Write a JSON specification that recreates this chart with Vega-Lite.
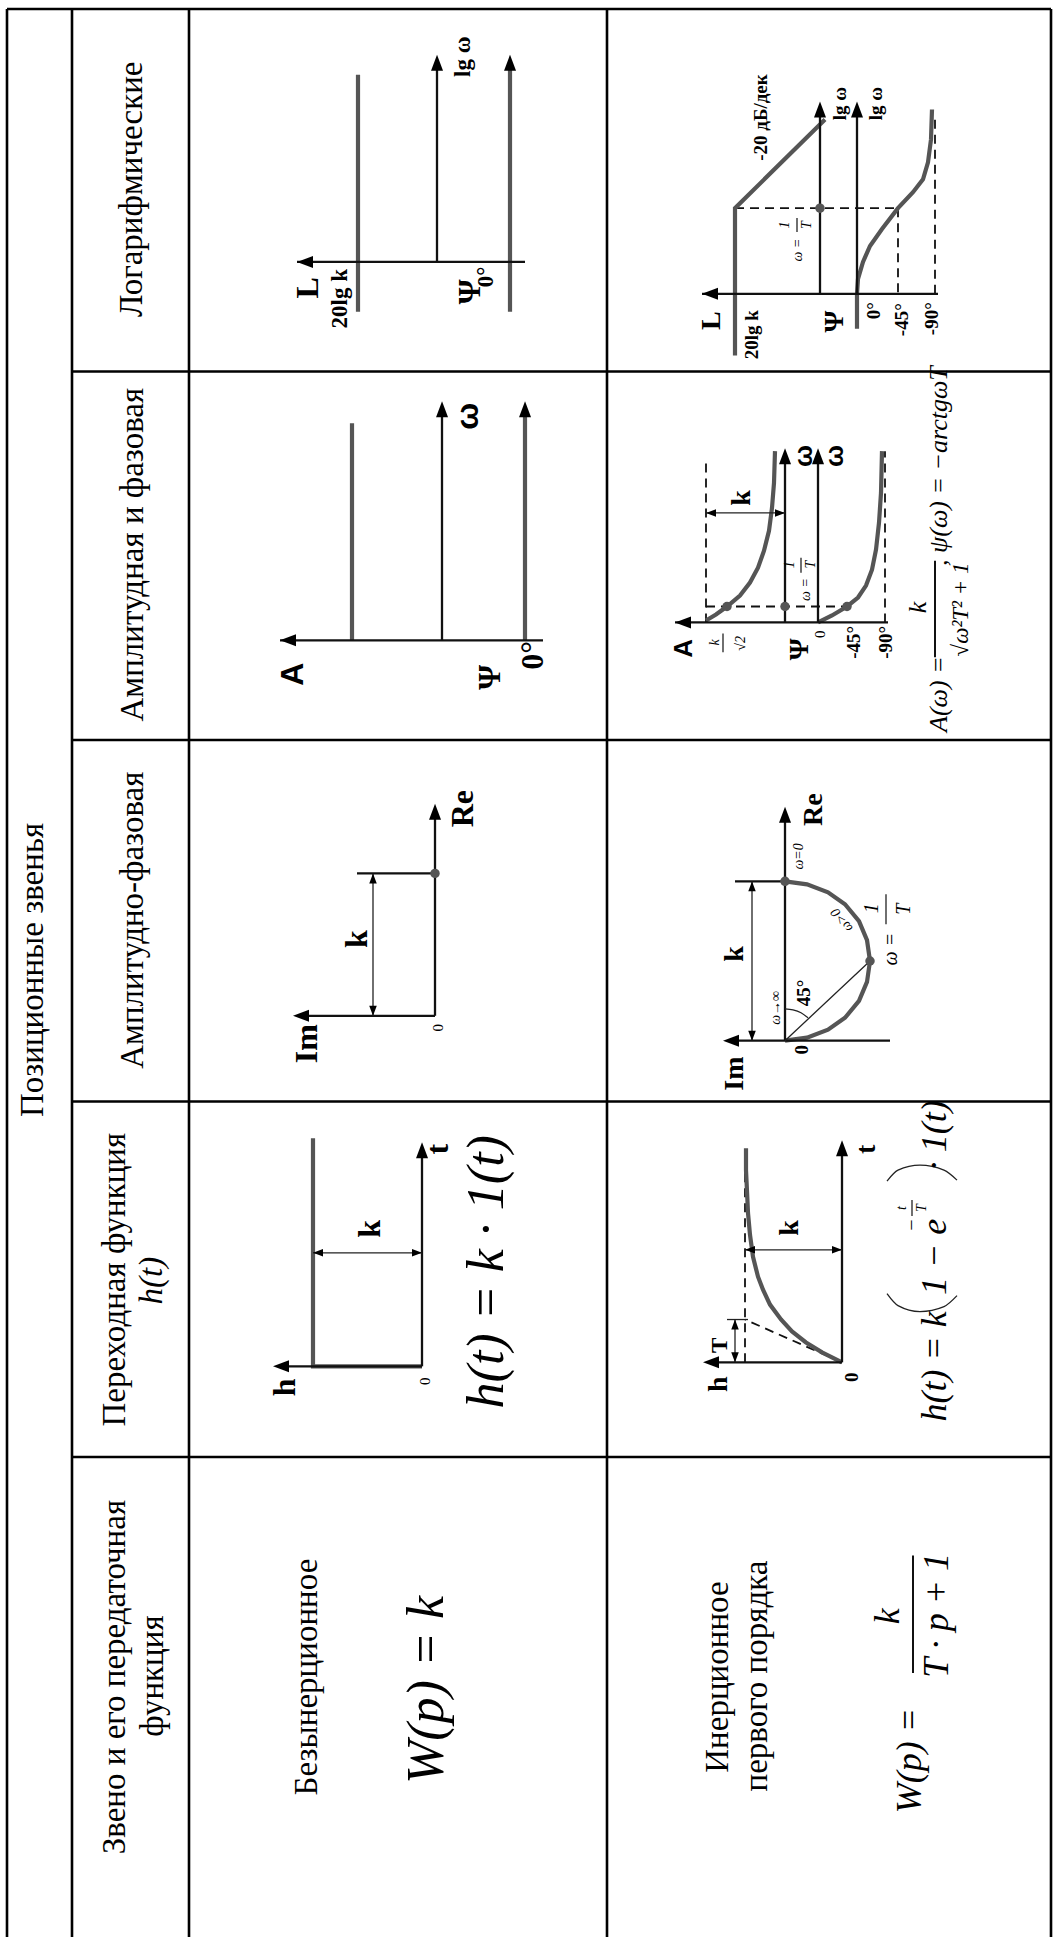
{
"$schema":"https://vega.github.io/schema/vega-lite/v6.json",
"width":1058,"height":1939,
"autosize":{"type":"fit","contains":"padding"},
"padding":0,
"background":"white",
"config":{"view":{"stroke":null},"text":{"font":"Times New Roman, Liberation Serif, serif"}},
"datasets":{
"grid":[
{"x":7,"y":9,"x2":7,"y2":1945},
{"x":72,"y":9,"x2":72,"y2":1945},
{"x":189,"y":9,"x2":189,"y2":1945},
{"x":607,"y":9,"x2":607,"y2":1945},
{"x":1051,"y":9,"x2":1051,"y2":1945},
{"x":7,"y":9,"x2":1051,"y2":9},
{"x":72,"y":373,"x2":1051,"y2":373},
{"x":72,"y":743,"x2":1051,"y2":743},
{"x":72,"y":1106,"x2":1051,"y2":1106},
{"x":72,"y":1463,"x2":1051,"y2":1463}
],
"paths":[
{"g":"a1","k":"ax","o":0,"x":297,"y":263},{"g":"a1","k":"ax","o":1,"x":525,"y":263},
{"g":"a2","k":"ax","o":0,"x":437,"y":263},{"g":"a2","k":"ax","o":1,"x":437,"y":62},
{"g":"c1","k":"cv","o":0,"x":358,"y":313},{"g":"c1","k":"cv","o":1,"x":358,"y":75},
{"g":"c2","k":"cv","o":0,"x":510,"y":313},{"g":"c2","k":"cv","o":1,"x":510,"y":64},
{"g":"a3","k":"ax","o":0,"x":280,"y":643},{"g":"a3","k":"ax","o":1,"x":543,"y":643},
{"g":"c3","k":"cv","o":0,"x":352,"y":643},{"g":"c3","k":"cv","o":1,"x":352,"y":425},
{"g":"a4","k":"ax","o":0,"x":442,"y":643},{"g":"a4","k":"ax","o":1,"x":442,"y":410},
{"g":"c4","k":"cv","o":0,"x":525,"y":643},{"g":"c4","k":"cv","o":1,"x":525,"y":412},
{"g":"a5","k":"ax","o":0,"x":435,"y":1020},{"g":"a5","k":"ax","o":1,"x":435,"y":814},
{"g":"a6","k":"ax","o":0,"x":435,"y":1020},{"g":"a6","k":"ax","o":1,"x":300,"y":1020},
{"g":"t1","k":"ax","o":0,"x":435,"y":877},{"g":"t1","k":"ax","o":1,"x":357,"y":877},
{"g":"d1","k":"th","o":0,"x":373,"y":877},{"g":"d1","k":"th","o":1,"x":373,"y":1020},
{"g":"a7","k":"ax","o":0,"x":422,"y":1372},{"g":"a7","k":"ax","o":1,"x":422,"y":1154},
{"g":"a8","k":"ax","o":0,"x":422,"y":1372},{"g":"a8","k":"ax","o":1,"x":280,"y":1372},
{"g":"c5","k":"cv","o":0,"x":422,"y":1372},{"g":"c5","k":"cv","o":1,"x":313,"y":1372},{"g":"c5","k":"cv","o":2,"x":313,"y":1143},
{"g":"d2","k":"th","o":0,"x":313,"y":1258},{"g":"d2","k":"th","o":1,"x":422,"y":1258},
{"g":"a9","k":"ax","o":0,"x":702,"y":295},{"g":"a9","k":"ax","o":1,"x":938,"y":295},
{"g":"a10","k":"ax","o":0,"x":820,"y":295},{"g":"a10","k":"ax","o":1,"x":820,"y":108},
{"g":"a11","k":"ax","o":0,"x":857,"y":295},{"g":"a11","k":"ax","o":1,"x":857,"y":108},
{"g":"s1","k":"ds","o":0,"x":735,"y":209},{"g":"s1","k":"ds","o":1,"x":898,"y":209},
{"g":"s2","k":"ds","o":0,"x":898,"y":209},{"g":"s2","k":"ds","o":1,"x":898,"y":295},
{"g":"s3","k":"ds","o":0,"x":935,"y":295},{"g":"s3","k":"ds","o":1,"x":935,"y":118},
{"g":"c6","k":"cv","o":0,"x":735,"y":357},{"g":"c6","k":"cv","o":1,"x":735,"y":209},{"g":"c6","k":"cv","o":2,"x":825,"y":120},
{"g":"c7","k":"cv","o":0,"x":857,"y":330},{"g":"c7","k":"cv","o":1,"x":857,"y":295},{"g":"c7","k":"cv","o":2,"x":858,"y":280},{"g":"c7","k":"cv","o":3,"x":863,"y":263},{"g":"c7","k":"cv","o":4,"x":870,"y":247},{"g":"c7","k":"cv","o":5,"x":882,"y":230},{"g":"c7","k":"cv","o":6,"x":898,"y":209},{"g":"c7","k":"cv","o":7,"x":913,"y":193},{"g":"c7","k":"cv","o":8,"x":923,"y":180},{"g":"c7","k":"cv","o":9,"x":928,"y":163},{"g":"c7","k":"cv","o":10,"x":931,"y":140},{"g":"c7","k":"cv","o":11,"x":932,"y":110},
{"g":"a12","k":"ax","o":0,"x":675,"y":625},{"g":"a12","k":"ax","o":1,"x":888,"y":625},
{"g":"s4","k":"ds","o":0,"x":706,"y":625},{"g":"s4","k":"ds","o":1,"x":706,"y":460},
{"g":"s5","k":"ds","o":0,"x":885,"y":625},{"g":"s5","k":"ds","o":1,"x":885,"y":453},
{"g":"s6","k":"ds","o":0,"x":706,"y":609},{"g":"s6","k":"ds","o":1,"x":847,"y":609},
{"g":"a13","k":"ax","o":0,"x":785,"y":625},{"g":"a13","k":"ax","o":1,"x":785,"y":457},
{"g":"a14","k":"ax","o":0,"x":818,"y":625},{"g":"a14","k":"ax","o":1,"x":818,"y":457},
{"g":"c8","k":"cv","o":0,"x":706,"y":623},{"g":"c8","k":"cv","o":1,"x":716,"y":617},{"g":"c8","k":"cv","o":2,"x":727,"y":609},{"g":"c8","k":"cv","o":3,"x":740,"y":598},{"g":"c8","k":"cv","o":4,"x":750,"y":585},{"g":"c8","k":"cv","o":5,"x":758,"y":570},{"g":"c8","k":"cv","o":6,"x":764,"y":553},{"g":"c8","k":"cv","o":7,"x":769,"y":533},{"g":"c8","k":"cv","o":8,"x":772,"y":510},{"g":"c8","k":"cv","o":9,"x":774,"y":485},{"g":"c8","k":"cv","o":10,"x":775,"y":453},
{"g":"c9","k":"cv","o":0,"x":818,"y":625},{"g":"c9","k":"cv","o":1,"x":832,"y":618},{"g":"c9","k":"cv","o":2,"x":847,"y":609},{"g":"c9","k":"cv","o":3,"x":858,"y":600},{"g":"c9","k":"cv","o":4,"x":866,"y":588},{"g":"c9","k":"cv","o":5,"x":872,"y":572},{"g":"c9","k":"cv","o":6,"x":876,"y":552},{"g":"c9","k":"cv","o":7,"x":879,"y":525},{"g":"c9","k":"cv","o":8,"x":881,"y":495},{"g":"c9","k":"cv","o":9,"x":882,"y":453},
{"g":"d3","k":"th","o":0,"x":706,"y":515},{"g":"d3","k":"th","o":1,"x":785,"y":515},
{"g":"a15","k":"ax","o":0,"x":785,"y":1045},{"g":"a15","k":"ax","o":1,"x":785,"y":817},
{"g":"a16","k":"ax","o":0,"x":890,"y":1045},{"g":"a16","k":"ax","o":1,"x":730,"y":1045},
{"g":"t2","k":"th","o":0,"x":785,"y":1045},{"g":"t2","k":"th","o":1,"x":870,"y":965},
{"g":"t3","k":"ax","o":0,"x":735,"y":885},{"g":"t3","k":"ax","o":1,"x":785,"y":885},
{"g":"d4","k":"th","o":0,"x":752,"y":885},{"g":"d4","k":"th","o":1,"x":752,"y":1045},
{"g":"d5","k":"th","o":0,"x":785,"y":1013},{"g":"d5","k":"th","o":1,"x":793,"y":1014},{"g":"d5","k":"th","o":2,"x":801,"y":1017},{"g":"d5","k":"th","o":3,"x":808,"y":1022},
{"g":"c10","k":"cv","o":0,"x":785,"y":885},{"g":"c10","k":"cv","o":1,"x":807,"y":888},{"g":"c10","k":"cv","o":2,"x":828,"y":896},{"g":"c10","k":"cv","o":3,"x":845,"y":908},{"g":"c10","k":"cv","o":4,"x":859,"y":925},{"g":"c10","k":"cv","o":5,"x":867,"y":944},{"g":"c10","k":"cv","o":6,"x":870,"y":965},{"g":"c10","k":"cv","o":7,"x":867,"y":986},{"g":"c10","k":"cv","o":8,"x":859,"y":1005},{"g":"c10","k":"cv","o":9,"x":845,"y":1022},{"g":"c10","k":"cv","o":10,"x":828,"y":1034},{"g":"c10","k":"cv","o":11,"x":807,"y":1042},{"g":"c10","k":"cv","o":12,"x":785,"y":1045},
{"g":"a17","k":"ax","o":0,"x":842,"y":1368},{"g":"a17","k":"ax","o":1,"x":842,"y":1152},
{"g":"a18","k":"ax","o":0,"x":842,"y":1368},{"g":"a18","k":"ax","o":1,"x":710,"y":1368},
{"g":"s7","k":"ds","o":0,"x":745,"y":1368},{"g":"s7","k":"ds","o":1,"x":745,"y":1158},
{"g":"s8","k":"ds","o":0,"x":842,"y":1368},{"g":"s8","k":"ds","o":1,"x":745,"y":1325},
{"g":"c11","k":"cv","o":0,"x":842,"y":1368},{"g":"c11","k":"cv","o":1,"x":822,"y":1358},{"g":"c11","k":"cv","o":2,"x":806,"y":1348},{"g":"c11","k":"cv","o":3,"x":792,"y":1337},{"g":"c11","k":"cv","o":4,"x":781,"y":1325},{"g":"c11","k":"cv","o":5,"x":770,"y":1310},{"g":"c11","k":"cv","o":6,"x":763,"y":1295},{"g":"c11","k":"cv","o":7,"x":758,"y":1282},{"g":"c11","k":"cv","o":8,"x":753,"y":1262},{"g":"c11","k":"cv","o":9,"x":750,"y":1240},{"g":"c11","k":"cv","o":10,"x":748,"y":1218},{"g":"c11","k":"cv","o":11,"x":747,"y":1196},{"g":"c11","k":"cv","o":12,"x":746,"y":1175},{"g":"c11","k":"cv","o":13,"x":746,"y":1153},
{"g":"d6","k":"th","o":0,"x":745,"y":1255},{"g":"d6","k":"th","o":1,"x":842,"y":1255},
{"g":"d7","k":"th","o":0,"x":735,"y":1325},{"g":"d7","k":"th","o":1,"x":735,"y":1368},
{"g":"t4","k":"th","o":0,"x":727,"y":1325},{"g":"t4","k":"th","o":1,"x":748,"y":1325},
{"g":"p1","k":"th","o":0,"x":887,"y":1299},{"g":"p1","k":"th","o":1,"x":898,"y":1311},{"g":"p1","k":"th","o":2,"x":920,"y":1317},{"g":"p1","k":"th","o":3,"x":944,"y":1312},{"g":"p1","k":"th","o":4,"x":957,"y":1301},
{"g":"p2","k":"th","o":0,"x":887,"y":1186},{"g":"p2","k":"th","o":1,"x":898,"y":1175},{"g":"p2","k":"th","o":2,"x":920,"y":1170},{"g":"p2","k":"th","o":3,"x":944,"y":1175},{"g":"p2","k":"th","o":4,"x":957,"y":1185},
{"g":"b1","k":"fb","o":0,"x":913,"y":1562},{"g":"b1","k":"fb","o":1,"x":913,"y":1680},
{"g":"b2","k":"fb","o":0,"x":935,"y":563},{"g":"b2","k":"fb","o":1,"x":935,"y":660},
{"g":"b3","k":"th","o":0,"x":723,"y":636},{"g":"b3","k":"th","o":1,"x":723,"y":655},
{"g":"b4","k":"th","o":0,"x":886,"y":898},{"g":"b4","k":"th","o":1,"x":886,"y":928},
{"g":"b5","k":"th","o":0,"x":797,"y":219},{"g":"b5","k":"th","o":1,"x":797,"y":233},
{"g":"b6","k":"th","o":0,"x":801,"y":560},{"g":"b6","k":"th","o":1,"x":801,"y":575},
{"g":"b7","k":"th","o":0,"x":912,"y":1205},{"g":"b7","k":"th","o":1,"x":912,"y":1221}
],
"dots":[
{"x":435,"y":877},{"x":820,"y":209},{"x":727,"y":609},{"x":785,"y":609},{"x":847,"y":609},{"x":785,"y":885},{"x":870,"y":965}
],
"arrows":[
{"k":"ax","dir":"left","x":297,"y":263},{"k":"ax","dir":"up","x":437,"y":55},{"k":"ax","dir":"up","x":510,"y":55},
{"k":"ax","dir":"left","x":280,"y":643},{"k":"ax","dir":"up","x":442,"y":403},{"k":"ax","dir":"up","x":525,"y":403},
{"k":"ax","dir":"up","x":435,"y":807},{"k":"ax","dir":"left","x":293,"y":1020},
{"k":"dm","dir":"up","x":373,"y":877},{"k":"dm","dir":"down","x":373,"y":1020},
{"k":"ax","dir":"up","x":422,"y":1147},{"k":"ax","dir":"left","x":273,"y":1372},
{"k":"dm","dir":"left","x":313,"y":1258},{"k":"dm","dir":"right","x":422,"y":1258},
{"k":"ax","dir":"left","x":702,"y":295},{"k":"ax","dir":"up","x":820,"y":102},{"k":"ax","dir":"up","x":857,"y":102},
{"k":"ax","dir":"left","x":675,"y":625},{"k":"ax","dir":"up","x":785,"y":450},{"k":"ax","dir":"up","x":818,"y":450},
{"k":"dm","dir":"left","x":706,"y":515},{"k":"dm","dir":"right","x":785,"y":515},
{"k":"ax","dir":"up","x":785,"y":810},{"k":"ax","dir":"left","x":723,"y":1045},
{"k":"dm","dir":"up","x":752,"y":885},{"k":"dm","dir":"down","x":752,"y":1045},
{"k":"ax","dir":"up","x":842,"y":1145},{"k":"ax","dir":"left","x":703,"y":1368},
{"k":"dm","dir":"left","x":745,"y":1255},{"k":"dm","dir":"right","x":842,"y":1255},
{"k":"dm","dir":"up","x":735,"y":1325},{"k":"dm","dir":"down","x":735,"y":1368}
],
"labels":[
{"c":"hd","x":43,"y":974,"t":"Позиционные звенья"},
{"c":"hd","x":142,"y":190,"t":"Логарифмические"},
{"c":"hd","x":143,"y":557,"t":"Амплитудная и фазовая"},
{"c":"hd","x":143,"y":924,"t":"Амплитудно-фазовая"},
{"c":"hd","x":125,"y":1285,"t":"Переходная функция"},
{"c":"hdi","x":162,"y":1286,"t":"h(t)"},
{"c":"hd","x":125,"y":1684,"t":"Звено и его передаточная"},
{"c":"hd","x":163,"y":1683,"t":"функция"},
{"c":"hd","x":317,"y":1684,"t":"Безынерционное"},
{"c":"hd","x":728,"y":1684,"t":"Инерционное"},
{"c":"hd","x":767,"y":1683,"t":"первого порядка"},
{"c":"f52","x":443,"y":1697,"t":"W(p) = k"},
{"c":"f52","x":503,"y":1277,"t":"h(t) = k · 1(t)"},
{"c":"f36","x":921,"y":1768,"t":"W(p) ="},
{"c":"f36","x":899,"y":1623,"t":"k"},
{"c":"f36","x":948,"y":1622,"t":"T · p + 1"},
{"c":"f36","x":946,"y":1372,"t":"h(t) = k"},
{"c":"f36","x":946,"y":1262,"t":"1 − e"},
{"c":"f20","x":918,"y":1230,"t":"−"},
{"c":"f14","x":906,"y":1213,"t":"t"},
{"c":"f14","x":926,"y":1213,"t":"T"},
{"c":"f36","x":946,"y":1140,"t":"· 1(t)"},
{"c":"f26","x":947,"y":697,"t":"A(ω) ="},
{"c":"f26","x":926,"y":610,"t":"k"},
{"c":"f24","x":968,"y":612,"t":"√ω²T² + 1"},
{"c":"f26","x":947,"y":468,"t":", ψ(ω) = −arctgωT"},
{"c":"b24","x":470,"y":57,"t":"lg ω"},
{"c":"b32","x":318,"y":289,"t":"L"},
{"c":"b24","x":347,"y":300,"t":"20lg k"},
{"c":"b32","x":480,"y":293,"t":"Ψ"},
{"c":"b24","x":493,"y":278,"t":"0°"},
{"c":"s32","x":478,"y":418,"t":"ω"},
{"c":"s32","x":303,"y":677,"t":"A"},
{"c":"b32","x":500,"y":680,"t":"Ψ"},
{"c":"b32","x":543,"y":658,"t":"0°"},
{"c":"b32","x":473,"y":812,"t":"Re"},
{"c":"b32","x":317,"y":1048,"t":"Im"},
{"c":"b32","x":367,"y":943,"t":"k"},
{"c":"n14","x":443,"y":1032,"t":"0"},
{"c":"b32","x":448,"y":1154,"t":"t"},
{"c":"b32","x":380,"y":1234,"t":"k"},
{"c":"n14","x":430,"y":1387,"t":"0"},
{"c":"b32","x":295,"y":1393,"t":"h"},
{"c":"b20","x":767,"y":118,"t":"-20 дБ/дек"},
{"c":"b20","x":846,"y":104,"t":"lg ω"},
{"c":"b20","x":882,"y":104,"t":"lg ω"},
{"c":"f14","x":789,"y":226,"t":"1"},
{"c":"f14","x":811,"y":226,"t":"T"},
{"c":"f14","x":802,"y":251,"t":"ω ="},
{"c":"b28","x":720,"y":322,"t":"L"},
{"c":"b20","x":758,"y":336,"t":"20lg k"},
{"c":"b28","x":843,"y":323,"t":"Ψ"},
{"c":"b20","x":880,"y":312,"t":"0°"},
{"c":"b20","x":908,"y":321,"t":"-45°"},
{"c":"b20","x":938,"y":320,"t":"-90°"},
{"c":"b28","x":750,"y":500,"t":"k"},
{"c":"s26","x":812,"y":458,"t":"ω"},
{"c":"s26","x":843,"y":458,"t":"ω"},
{"c":"f14","x":794,"y":567,"t":"1"},
{"c":"f14","x":815,"y":567,"t":"T"},
{"c":"f14","x":810,"y":592,"t":"ω ="},
{"c":"s26","x":692,"y":651,"t":"A"},
{"c":"f14","x":719,"y":645,"t":"k"},
{"c":"f14","x":745,"y":646,"t":"√2"},
{"c":"b28","x":808,"y":652,"t":"Ψ"},
{"c":"n14","x":825,"y":637,"t":"0"},
{"c":"b20","x":860,"y":645,"t":"-45°"},
{"c":"b20","x":892,"y":645,"t":"-90°"},
{"c":"b28","x":822,"y":813,"t":"Re"},
{"c":"b28","x":743,"y":1078,"t":"Im"},
{"c":"b28","x":743,"y":958,"t":"k"},
{"c":"f14","x":803,"y":860,"t":"ω=0"},
{"c":"f14","x":780,"y":1012,"t":"ω→∞"},
{"c":"b20","x":810,"y":997,"t":"45°"},
{"c":"rot","x":842,"y":924,"t":"ω>0"},
{"c":"f20","x":878,"y":912,"t":"1"},
{"c":"f20","x":910,"y":913,"t":"T"},
{"c":"f20","x":897,"y":953,"t":"ω ="},
{"c":"b20","x":808,"y":1054,"t":"0"},
{"c":"b28","x":875,"y":1154,"t":"t"},
{"c":"b28","x":798,"y":1233,"t":"k"},
{"c":"b20","x":858,"y":1383,"t":"0"},
{"c":"b28","x":727,"y":1390,"t":"h"},
{"c":"b24","x":727,"y":1351,"t":"T"}
]
},
"encoding":{
"x":{"field":"x","type":"quantitative","scale":{"domain":[0,1058],"nice":false,"zero":false},"axis":null},
"y":{"field":"y","type":"quantitative","scale":{"domain":[0,1939],"reverse":true,"nice":false,"zero":false},"axis":null}
},
"layer":[
{"data":{"name":"grid"},"mark":{"type":"rule","color":"#000","strokeWidth":2.6},"encoding":{"x2":{"field":"x2"},"y2":{"field":"y2"}}},
{"data":{"name":"paths"},"transform":[{"filter":"datum.k==='ds'"}],"mark":{"type":"line","color":"#111","strokeWidth":1.8,"strokeDash":[9,6]},"encoding":{"detail":{"field":"g"},"order":{"field":"o","type":"quantitative"}}},
{"data":{"name":"paths"},"transform":[{"filter":"datum.k==='cv'"}],"mark":{"type":"line","color":"#555","strokeWidth":4.2},"encoding":{"detail":{"field":"g"},"order":{"field":"o","type":"quantitative"}}},
{"data":{"name":"paths"},"transform":[{"filter":"datum.k==='ax'"}],"mark":{"type":"line","color":"#111","strokeWidth":2.3},"encoding":{"detail":{"field":"g"},"order":{"field":"o","type":"quantitative"}}},
{"data":{"name":"paths"},"transform":[{"filter":"datum.k==='th'"}],"mark":{"type":"line","color":"#222","strokeWidth":1.3,"interpolate":"monotone"},"encoding":{"detail":{"field":"g"},"order":{"field":"o","type":"quantitative"}}},
{"data":{"name":"paths"},"transform":[{"filter":"datum.k==='fb'"}],"mark":{"type":"line","color":"#111","strokeWidth":2},"encoding":{"detail":{"field":"g"},"order":{"field":"o","type":"quantitative"}}},
{"data":{"name":"dots"},"mark":{"type":"circle","color":"#555","opacity":1,"size":90}},
{"data":{"name":"arrows"},"transform":[{"filter":"datum.k==='ax'"}],"mark":{"type":"point","filled":true,"color":"#000","opacity":1,"size":256},"encoding":{"shape":{"field":"dir","type":"nominal","scale":{"domain":["up","down","left","right"],"range":["M0,0L0.75,2L-0.75,2Z","M0,0L0.75,-2L-0.75,-2Z","M0,0L2,-0.75L2,0.75Z","M0,0L-2,-0.75L-2,0.75Z"]},"legend":null}}},
{"data":{"name":"arrows"},"transform":[{"filter":"datum.k==='dm'"}],"mark":{"type":"point","filled":true,"color":"#000","opacity":1,"size":100},"encoding":{"shape":{"field":"dir","type":"nominal","legend":null}}},
{"data":{"name":"labels"},"transform":[{"filter":"datum.c==='hd'"}],"mark":{"type":"text","angle":270,"align":"center","baseline":"alphabetic","fontSize":33,"color":"#000"},"encoding":{"text":{"field":"t"}}},
{"data":{"name":"labels"},"transform":[{"filter":"datum.c==='hdi'"}],"mark":{"type":"text","angle":270,"align":"center","baseline":"alphabetic","fontStyle":"italic","fontSize":33,"color":"#000"},"encoding":{"text":{"field":"t"}}},
{"data":{"name":"labels"},"transform":[{"filter":"datum.c==='f52'"}],"mark":{"type":"text","angle":270,"align":"center","baseline":"alphabetic","fontStyle":"italic","fontSize":52,"color":"#000"},"encoding":{"text":{"field":"t"}}},
{"data":{"name":"labels"},"transform":[{"filter":"datum.c==='f36'"}],"mark":{"type":"text","angle":270,"align":"center","baseline":"alphabetic","fontStyle":"italic","fontSize":36,"color":"#000"},"encoding":{"text":{"field":"t"}}},
{"data":{"name":"labels"},"transform":[{"filter":"datum.c==='f26'"}],"mark":{"type":"text","angle":270,"align":"center","baseline":"alphabetic","fontStyle":"italic","fontSize":26,"color":"#000"},"encoding":{"text":{"field":"t"}}},
{"data":{"name":"labels"},"transform":[{"filter":"datum.c==='f24'"}],"mark":{"type":"text","angle":270,"align":"center","baseline":"alphabetic","fontStyle":"italic","fontSize":23,"color":"#000"},"encoding":{"text":{"field":"t"}}},
{"data":{"name":"labels"},"transform":[{"filter":"datum.c==='f20'"}],"mark":{"type":"text","angle":270,"align":"center","baseline":"alphabetic","fontStyle":"italic","fontSize":20,"color":"#000"},"encoding":{"text":{"field":"t"}}},
{"data":{"name":"labels"},"transform":[{"filter":"datum.c==='f14'"}],"mark":{"type":"text","angle":270,"align":"center","baseline":"alphabetic","fontStyle":"italic","fontSize":14,"color":"#000"},"encoding":{"text":{"field":"t"}}},
{"data":{"name":"labels"},"transform":[{"filter":"datum.c==='n14'"}],"mark":{"type":"text","angle":270,"align":"center","baseline":"alphabetic","fontSize":15,"color":"#000"},"encoding":{"text":{"field":"t"}}},
{"data":{"name":"labels"},"transform":[{"filter":"datum.c==='b32'"}],"mark":{"type":"text","angle":270,"align":"center","baseline":"alphabetic","fontWeight":"bold","fontSize":32,"color":"#000"},"encoding":{"text":{"field":"t"}}},
{"data":{"name":"labels"},"transform":[{"filter":"datum.c==='b28'"}],"mark":{"type":"text","angle":270,"align":"center","baseline":"alphabetic","fontWeight":"bold","fontSize":28,"color":"#000"},"encoding":{"text":{"field":"t"}}},
{"data":{"name":"labels"},"transform":[{"filter":"datum.c==='b24'"}],"mark":{"type":"text","angle":270,"align":"center","baseline":"alphabetic","fontWeight":"bold","fontSize":23,"color":"#000"},"encoding":{"text":{"field":"t"}}},
{"data":{"name":"labels"},"transform":[{"filter":"datum.c==='b20'"}],"mark":{"type":"text","angle":270,"align":"center","baseline":"alphabetic","fontWeight":"bold","fontSize":19,"color":"#000"},"encoding":{"text":{"field":"t"}}},
{"data":{"name":"labels"},"transform":[{"filter":"datum.c==='s32'"}],"mark":{"type":"text","angle":270,"align":"center","baseline":"alphabetic","font":"Liberation Sans, Arial, sans-serif","fontWeight":"bold","fontSize":32,"color":"#000"},"encoding":{"text":{"field":"t"}}},
{"data":{"name":"labels"},"transform":[{"filter":"datum.c==='s26'"}],"mark":{"type":"text","angle":270,"align":"center","baseline":"alphabetic","font":"Liberation Sans, Arial, sans-serif","fontWeight":"bold","fontSize":26,"color":"#000"},"encoding":{"text":{"field":"t"}}},
{"data":{"name":"labels"},"transform":[{"filter":"datum.c==='rot'"}],"mark":{"type":"text","angle":232,"align":"center","baseline":"middle","fontStyle":"italic","fontSize":14,"color":"#000"},"encoding":{"text":{"field":"t"}}}
]
}
